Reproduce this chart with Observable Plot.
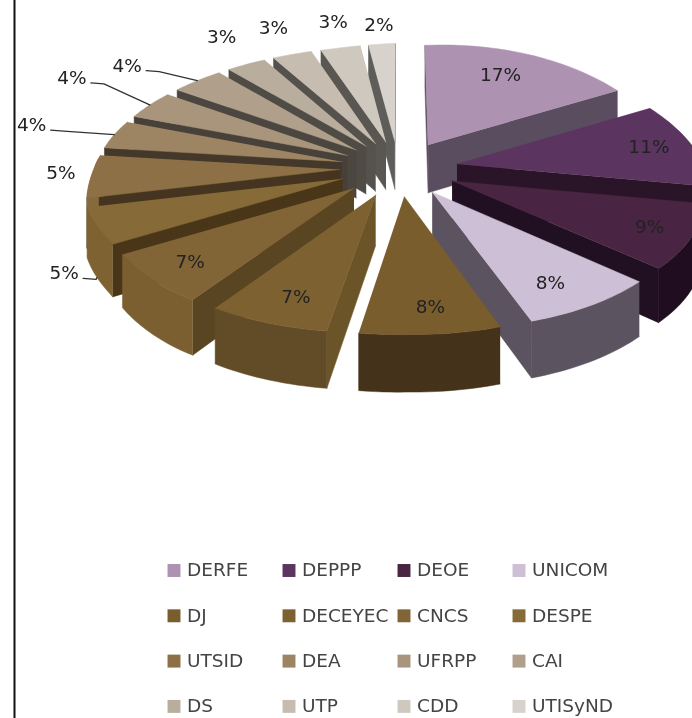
<!DOCTYPE html>
<html>
<head>
<meta charset="utf-8">
<script src="https://cdn.jsdelivr.net/npm/d3@7"></script>
<script src="https://cdn.jsdelivr.net/npm/@observablehq/plot@0.6"></script>
<style>
html,body{margin:0;padding:0;background:#fff;overflow:hidden}
svg{display:block;filter:blur(0.65px)}
</style>
</head>
<body>
<div id="chart"></div>
<script>
const names = ["DERFE","DEPPP","DEOE","UNICOM","DJ","DECEYEC","CNCS","DESPE","UTSID","DEA","UFRPP","CAI","DS","UTP","CDD","UTISyND"];
const shares = [17,11,9,8,8,7,7,5,5,4,4,4,3,3,3,2];
const topColors = ["#AD92B2","#5C3460","#4A2543","#CDBFD5","#7A5D2C","#7E6131","#826536","#866A38","#8D7045","#9D8563","#A8957B","#B0A08B","#B9AD9D","#C6BDB0","#CFC8BE","#D7D3CC"];
const sideColors = ["#5A4D5F","#2A1528","#210F22","#5B5360","#46331A","#6C5429","#5A4522","#493619","#453420","#43382A","#47413A","#4B4740","#4F4B45","#55514C","#5A5752","#5F5D59"];
const rimColors  = ["#5A4D5F","#2A1528","#200E20","#5B5360","#45321A","#624C27","#7B5F30","#7E6232","#876A3C","#927B5B","#9C8A72","#A49582","#ADA292","#B9B1A5","#C3BCB2","#CBC7C0"];
const labelReach = [1.02,1.05,1.07,1.05,1.07,1.06,1.07,1.47,1.355,1.60,1.70,1.59,1.57,1.56,1.546,1.49];
const labelTurn  = [-4,-1.4,0,1,-2.4,-3.3,-3,-14.5,0,0,2.3,-3.7,2.4,1.1,1,0];
const leaderNames = ["DESPE","DEA","UFRPP","CAI"];

const W = 692, H = 718;
const cx = 398, cy = 168, rx = 248, ry = 114, tilt = 0.12, explode = 0.24, depth = 49;
const rad = Math.PI / 180;
const total = d3.sum(shares);

function flat(u, v, drop = 0) {
  const s = 1 / (1 - tilt * v);
  return {x: cx + rx * u * s, y: cy + ry * v * s + drop * depth * s};
}
// small lens correction of the drawing's perspective
function project(u, v, drop = 0) {
  const p = flat(u, v, drop);
  const left = Math.max(0, -u), right = Math.max(0, u);
  const g = v <= 0 ? 2.5 : v < 0.25 ? 2.5 - 25 * v : v < 0.55 ? -3.7 + 21 * (v - 0.25) : 2.5;
  const skewX = (v > 0 ? 8 * v - 5 * right : 18 * v * Math.max(0, u - 0.2)) + g * left;
  const skewY = v < 0
    ? 6 * v * Math.max(0, u + 0.3)
    : 7 * Math.min(1, left * 1.2) * Math.min(1, v * 5);
  return {x: p.x + skewX, y: p.y + skewY};
}
function area(pts) {
  let a = 0;
  pts.forEach((p, i) => { const q = pts[(i + 1) % pts.length]; a += p.x * q.y - q.x * p.y; });
  return a / 2;
}

let cum = 0;
const slices = names.map((name, i) => {
  const a0 = cum / total * 360; cum += shares[i];
  const a1 = cum / total * 360, mid = (a0 + a1) / 2;
  const ex = explode * Math.sin(mid * rad), ey = -explode * Math.cos(mid * rad);
  const at = (a, r, drop = 0) => project(ex + r * Math.sin(a * rad), ey - r * Math.cos(a * rad), drop);
  return {name, i, a0, a1, mid, at, v: -Math.cos(mid * rad)};
});

const faces = [];
function addFace(id, pts, color) { pts.forEach(p => faces.push({face: id, x: p.x, y: p.y, color})); }
[...slices].sort((a, b) => a.v - b.v).forEach(sl => {
  const {i, a0, a1, at} = sl;
  const arcAngles = d3.range(a0, a1, 1.5).concat([a1]);
  const rimTop = arcAngles.map(a => at(a, 1));
  const sideA = [at(a0, 0), at(a0, 1), at(a0, 1, 1), at(a0, 0, 1)];
  const sideB = [at(a1, 0), at(a1, 1), at(a1, 1, 1), at(a1, 0, 1)];
  if (area(sideA) < 0) addFace(sl.name + "-a", sideA, sideColors[i]);
  if (area(sideB) > 0) addFace(sl.name + "-b", sideB, sideColors[i]);
  const frontAngles = arcAngles.filter(a => -Math.cos(a * rad) > -0.1);
  if (frontAngles.length > 1) {
    addFace(sl.name + "-rim",
      frontAngles.map(a => at(a, 1)).concat(frontAngles.map(a => at(a, 1, 1)).reverse()),
      rimColors[i]);
  }
  addFace(sl.name + "-top", [at(a0, 0), ...rimTop], topColors[i]);
});

const labels = slices.map(sl => {
  const a = sl.mid + labelTurn[sl.i], r = labelReach[sl.i];
  const p = flat(r * Math.sin(a * rad), -r * Math.cos(a * rad));
  return {x: p.x, y: p.y, text: shares[sl.i] + "%"};
});

const leaders = [];
leaderNames.forEach(n => {
  const sl = slices.find(s => s.name === n), l = labels[sl.i];
  const end = sl.at(sl.mid, 1, sl.v > 0 ? 1 : 0);
  [{x: l.x + 19, y: l.y + 5}, {x: l.x + 32, y: l.y + 6}, end].forEach(p => leaders.push({n, x: p.x, y: p.y}));
});

const legendItems = names.map((name, i) => ({
  name, color: topColors[i],
  x: 173.5 + 115 * (i % 4),
  y: 570 + 45.3 * Math.floor(i / 4)
}));

const font = "'DejaVu Sans', sans-serif";
const chart = Plot.plot({
  width: W, height: H,
  margin: 0,
  x: {domain: [0, W], range: [0, W], axis: null},
  y: {domain: [0, H], range: [0, H], axis: null},
  color: {type: "identity"},
  style: {background: "#fff"},
  marks: [
    Plot.ruleX([14], {stroke: "#111", strokeWidth: 2}),
    Plot.line(faces, {x: "x", y: "y", z: "face", fill: "color", stroke: "color", strokeWidth: 0.5, curve: "linear"}),
    Plot.line(leaders, {x: "x", y: "y", z: "n", stroke: "#333", strokeWidth: 1.3, curve: "linear"}),
    Plot.text(labels, {x: "x", y: "y", text: "text", fontSize: 18.5, fontFamily: font, fill: "#222"}),
    Plot.dot(legendItems, {x: "x", y: "y", fill: "color", symbol: "square", r: 7.3}),
    Plot.text(legendItems, {x: "x", y: "y", dx: 13, text: "name", textAnchor: "start", fontSize: 18.5, fontFamily: font, fill: "#444"})
  ]
});
document.getElementById("chart").appendChild(chart);
</script>
</body>
</html>
